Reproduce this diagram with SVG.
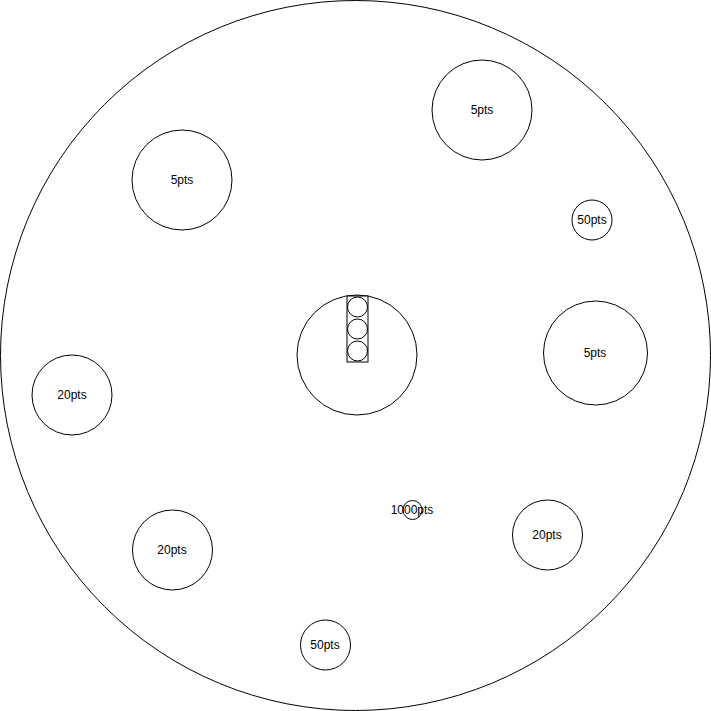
<svg xmlns="http://www.w3.org/2000/svg" width="711" height="711" viewBox="0 0 711 711">
<style>
circle, rect { fill: #ffffff; stroke: #000000; stroke-width: 1; }
text { font-family: "Liberation Sans", Arial, sans-serif; font-size: 12px; fill: #000000; text-anchor: middle; dominant-baseline: central; }
</style>
<rect x="0" y="0" width="711" height="711" style="stroke:none"/>
<g id="board"><circle cx="355.5" cy="355.5" r="355"/></g>
<g id="bullseye">
<circle cx="357" cy="355" r="60"/>
<rect x="347" y="296" width="21" height="66"/>
<circle cx="357.5" cy="307" r="10"/>
<circle cx="357.5" cy="329" r="10"/>
<circle cx="357.5" cy="351" r="10"/>
</g>
<g id="t5a"><circle cx="482" cy="110" r="50"/><text x="482" y="110">5pts</text></g>
<g id="t5b"><circle cx="182" cy="180" r="50"/><text x="182" y="180">5pts</text></g>
<g id="t50a"><circle cx="592" cy="220" r="20"/><text x="592" y="220">50pts</text></g>
<g id="t5c"><circle cx="595.5" cy="353" r="52"/><text x="595" y="353">5pts</text></g>
<g id="t20a"><circle cx="72" cy="395" r="40"/><text x="72" y="395">20pts</text></g>
<g id="t20b"><circle cx="172.5" cy="550" r="40"/><text x="172" y="550">20pts</text></g>
<g id="t20c"><circle cx="547.5" cy="535" r="35"/><text x="547" y="535">20pts</text></g>
<g id="t50b"><circle cx="325.5" cy="645" r="25"/><text x="325" y="645">50pts</text></g>
<g id="t1000"><circle cx="412.5" cy="510" r="9.5"/><text x="412" y="510">1000pts</text></g>
<g id="connectors"></g>
</svg>
